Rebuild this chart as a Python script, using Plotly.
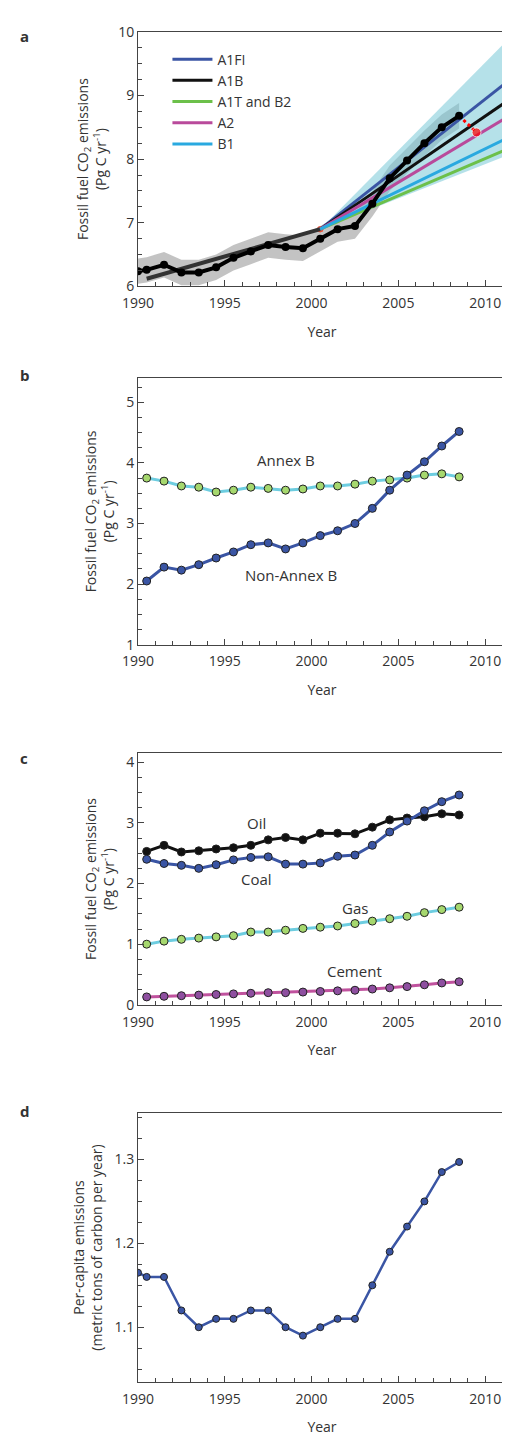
import plotly.graph_objects as go

# Pannello a: emissioni osservate e scenari
anni_oss = [1990.0, 1990.5, 1991.5, 1992.5, 1993.5, 1994.5, 1995.5, 1996.5, 1997.5, 1998.5,
            1999.5, 2000.5, 2001.5, 2002.5, 2003.5, 2004.5, 2005.5, 2006.5, 2007.5, 2008.5]
emiss_oss = [6.24, 6.26, 6.34, 6.22, 6.22, 6.3, 6.45, 6.55, 6.65, 6.62,
             6.6, 6.75, 6.9, 6.95, 7.3, 7.7, 7.98, 8.25, 8.5, 8.68]
anni_scen = [2000.5, 2011.2]
scenari = {
    "A1FI": ([6.9, 9.2], "#3a55a4"),
    "A1B": ([6.9, 8.9], "#111111"),
    "A1T and B2": ([6.9, 8.15], "#6cc04a"),
    "A2": ([6.9, 8.65], "#b94a9b"),
    "B1": ([6.9, 8.32], "#29a9e0"),
}
banda_sup = [6.9, 9.85]
banda_inf = [6.9, 8.05]
trend_anni = [1990.5, 2000.5]
trend_val = [6.12, 6.9]
rosso_anni = [2008.5, 2009.5]
rosso_val = [8.68, 8.42]

# Pannello b: Annex B / Non-Annex B
anni = [1990.5 + i for i in range(19)]
annex_b = [3.75, 3.7, 3.62, 3.6, 3.52, 3.55, 3.6, 3.58, 3.55, 3.57,
           3.62, 3.62, 3.65, 3.7, 3.72, 3.75, 3.8, 3.82, 3.77]
non_annex_b = [2.05, 2.28, 2.23, 2.32, 2.43, 2.53, 2.65, 2.68, 2.58, 2.68,
               2.8, 2.88, 3.0, 3.25, 3.55, 3.8, 4.02, 4.28, 4.52]

# Pannello c: per combustibile
oil = [2.53, 2.63, 2.52, 2.54, 2.57, 2.59, 2.63, 2.72, 2.76, 2.72,
       2.83, 2.83, 2.82, 2.93, 3.05, 3.08, 3.1, 3.15, 3.13]
coal = [2.4, 2.33, 2.3, 2.25, 2.31, 2.39, 2.43, 2.44, 2.32, 2.32,
        2.34, 2.45, 2.47, 2.63, 2.85, 3.03, 3.2, 3.35, 3.46]
gas = [1.0, 1.05, 1.08, 1.1, 1.12, 1.14, 1.2, 1.2, 1.23, 1.26,
       1.28, 1.3, 1.34, 1.38, 1.42, 1.46, 1.52, 1.57, 1.61]
cement = [0.13, 0.14, 0.15, 0.16, 0.17, 0.18, 0.19, 0.2, 0.2, 0.21,
          0.22, 0.23, 0.24, 0.26, 0.28, 0.3, 0.33, 0.36, 0.38]

# Pannello d: pro capite
pro_capite = [1.16, 1.16, 1.12, 1.1, 1.11, 1.11, 1.12, 1.12, 1.1, 1.09,
              1.1, 1.11, 1.11, 1.15, 1.19, 1.22, 1.25, 1.285, 1.297]

fig = go.Figure()
H = 1439
domini = {"": (14, 272), "2": (365, 635), "3": (745, 1000), "4": (1110, 1382)}

def serie(x, y, ax, linea, punto, bordo="#222222", size=8, width=3):
    fig.add_trace(go.Scatter(x=x, y=y, mode="lines+markers", xaxis="x" + ax, yaxis="y" + ax,
                             line=dict(color=linea, width=width),
                             marker=dict(color=punto, size=size, line=dict(color=bordo, width=1)),
                             showlegend=False))

# a
oss_sup = [v + 0.2 for v in emiss_oss]
oss_inf = [v - 0.2 for v in emiss_oss]
fig.add_trace(go.Scatter(x=anni_oss + anni_oss[::-1], y=oss_sup + oss_inf[::-1], fill="toself",
                         fillcolor="rgba(170,170,170,0.7)", line=dict(width=0), showlegend=False))
fig.add_trace(go.Scatter(x=anni_scen + anni_scen[::-1], y=banda_sup + banda_inf[::-1], fill="toself",
                         fillcolor="rgba(120,200,215,0.55)", line=dict(width=0), showlegend=False))
fig.add_trace(go.Scatter(x=trend_anni, y=trend_val, mode="lines",
                         line=dict(color="#333333", width=4), showlegend=False))
for nome, (val, col) in scenari.items():
    fig.add_trace(go.Scatter(x=anni_scen, y=val, mode="lines", name=nome,
                             line=dict(color=col, width=3)))
fig.add_trace(go.Scatter(x=rosso_anni, y=rosso_val, mode="lines+markers",
                         line=dict(color="red", width=3, dash="dot"),
                         marker=dict(color="red", size=[1, 9]), showlegend=False))
fig.add_trace(go.Scatter(x=anni_oss, y=emiss_oss, mode="lines+markers",
                         line=dict(color="black", width=4), marker=dict(color="black", size=8),
                         showlegend=False))

# b
serie(anni, annex_b, "2", "#6dcde0", "#a6d86e")
serie(anni, non_annex_b, "2", "#3a55a4", "#3a55a4")
# c
serie(anni, oil, "3", "#111111", "#111111")
serie(anni, coal, "3", "#3a55a4", "#3a55a4")
serie(anni, gas, "3", "#6dcde0", "#a6d86e")
serie(anni, cement, "3", "#c0529e", "#8e4fa0")
# d
serie([1990.0] + anni, [1.165] + pro_capite, "4", "#3a55a4", "#3a55a4", width=2.5, size=7)

asse_x = dict(range=[1990, 2011.2], tickvals=[1990, 1995, 2000, 2005, 2010], ticks="inside",
              ticklen=6, minor=dict(dtick=1, ticks="inside", ticklen=4, tick0=1990),
              showline=True, linecolor="#444", mirror=True, showgrid=False, zeroline=False,
              ticklabelstandoff=4,
              tickfont=dict(size=14, color="#333"), title=dict(text="Year", font=dict(size=14, color="#333")))
asse_y = dict(ticks="inside", ticklen=6, showline=True, linecolor="#444", mirror=True,
              showgrid=False, zeroline=False, tickfont=dict(size=14, color="#333"))
titolo_y = "Fossil fuel CO<sub>2</sub> emissions<br>(Pg C yr<sup>-1</sup>)"
yconf = {
    "": dict(range=[6, 10], dtick=1, minor=dict(dtick=0.25, ticks="inside", ticklen=4)),
    "2": dict(range=[1, 5.4], dtick=1, minor=dict(dtick=0.25, ticks="inside", ticklen=4)),
    "3": dict(range=[0, 4.15], dtick=1, minor=dict(dtick=0.25, ticks="inside", ticklen=4)),
    "4": dict(range=[1.035, 1.355], tickvals=[1.1, 1.2, 1.3], ticktext=["1.1", "1.2", "1.3"],
              minor=dict(dtick=0.025, ticks="inside", ticklen=4)),
}
layout = {}
for k, (top, bot) in domini.items():
    xa = dict(asse_x, domain=[0, 1], anchor="y" + k)
    ya = dict(asse_y, domain=[1 - bot / H, 1 - top / H], anchor="x" + k, **yconf[k])
    ya["title"] = dict(text=titolo_y if k != "4" else
                       "Per-capita emissions<br>(metric tons of carbon per year)",
                       font=dict(size=14, color="#333"), standoff=8)
    layout["xaxis" + k] = xa
    layout["yaxis" + k] = ya
fig.update_layout(**layout)

annot = []
for lettera, y in [("a", 18), ("b", 362), ("c", 750), ("d", 1108)]:
    annot.append(dict(text="<b>" + lettera + "</b>", xref="paper", yref="paper", x=-0.325,
                      y=1 - y / H, showarrow=False, font=dict(size=15), xanchor="left", yanchor="middle"))
for txt, x, y, ax in [("Annex B", 1998.5, 4.05, "2"), ("Non-Annex B", 1998.8, 2.15, "2"),
                      ("Oil", 1996.8, 3.0, "3"), ("Coal", 1996.8, 2.08, "3"),
                      ("Gas", 2002.5, 1.6, "3"), ("Cement", 2002.5, 0.55, "3")]:
    annot.append(dict(text=txt, x=x, y=y, xref="x" + ax, yref="y" + ax, showarrow=False,
                      font=dict(size=15, color="#333")))
fig.update_layout(
    width=510, height=H, margin=dict(l=130, r=12, t=0, b=0),
    paper_bgcolor="white", plot_bgcolor="white",
    font=dict(family="Open Sans", color="#333"),
    annotations=annot,
    legend=dict(x=0.08, y=0.982, yanchor="top", bgcolor="rgba(0,0,0,0)",
                font=dict(size=14), itemwidth=40, tracegroupgap=0),
)
fig.write_html("out.html")
